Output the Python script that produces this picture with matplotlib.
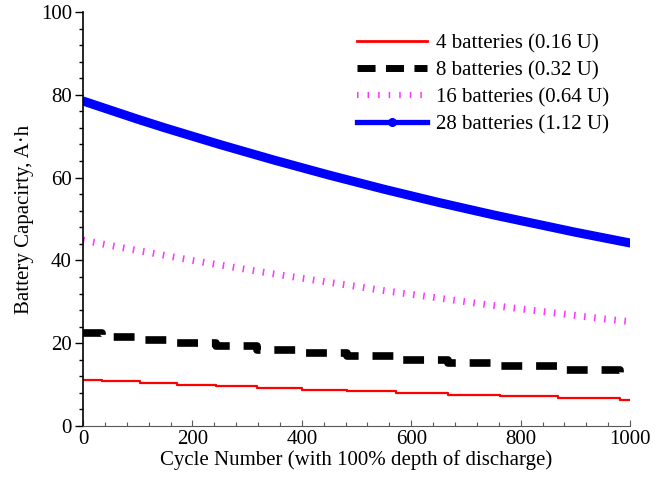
import numpy as np
import matplotlib.pyplot as plt
from matplotlib.lines import Line2D
from matplotlib.ticker import MultipleLocator

plt.rcParams['font.family'] = ['Liberation Serif', 'DejaVu Serif']
plt.rcParams['font.size'] = 15
plt.rcParams['lines.scale_dashes'] = False

# capacity readings, A*h
cycles = [0, 50, 100, 150, 200, 250, 300, 350, 400, 450, 500,
          550, 600, 650, 700, 750, 800, 850, 900, 950, 1000]
cap_28 = [78.5, 76.3, 74.1, 72.0, 70.0, 68.0, 66.1, 64.2, 62.4, 60.6, 58.9,
          57.2, 55.6, 54.0, 52.5, 51.0, 49.6, 48.2, 46.8, 45.5, 44.2]
cap_16 = [44.9, 43.6, 42.4, 41.2, 40.0, 38.9, 37.8, 36.7, 35.7, 34.7, 33.7,
          32.7, 31.8, 30.9, 30.0, 29.1, 28.3, 27.5, 26.7, 25.9, 25.2]

# the small packs are reported in coarse steps
step_cycles = [0, 34, 104, 171, 244, 318, 400, 482, 573, 668, 762, 868, 982, 1000]
cap_4 = [11.2, 10.8, 10.4, 10.0, 9.6, 9.2, 8.8, 8.4, 8.0, 7.6, 7.2, 6.8, 6.3, 6.3]
cap_8 = [22.4, 21.6, 20.8, 20.0, 19.2, 18.4, 17.6, 16.8, 16.0, 15.2, 14.4, 13.6, 12.6, 12.6]

labels = ['4 batteries (0.16 U)', '8 batteries (0.32 U)',
          '16 batteries (0.64 U)', '28 batteries (1.12 U)']

fig = plt.figure(figsize=(6.71, 4.86), dpi=100)
ax = fig.add_axes([0.1237, 0.1235, 0.8153, 0.8518])

ax.plot(step_cycles, cap_4, color='red', lw=1.6, drawstyle='steps-post')
ax.plot(step_cycles, cap_8, color='black', lw=5.5, drawstyle='steps-post',
        dashes=(15, 10), dash_capstyle='butt')
ax.plot(cycles, cap_16, color='#ff33ff', lw=5, dashes=(1.1, 6.2),
        dash_capstyle='butt')
ax.plot(cycles, cap_28, color='blue', lw=6.5, solid_capstyle='round')

handles = [
    Line2D([], [], color='red', lw=2),
    Line2D([], [], color='black', lw=5, dashes=(13, 7.5)),
    Line2D([], [], color='#ff33ff', lw=4.5, dashes=(1.1, 6.5)),
    Line2D([], [], color='blue', lw=3.8, marker='o', ms=5.5),
]
ax.legend(handles, labels, loc='upper right', frameon=False, handlelength=3.4,
          handletextpad=0.4, labelspacing=0.35, borderaxespad=0.3,
          bbox_to_anchor=(0.988, 0.982))

ax.set_xlim(0, 1000)
ax.set_ylim(0, 100)
ax.xaxis.set_major_locator(MultipleLocator(200))
ax.xaxis.set_minor_locator(MultipleLocator(40))
ax.yaxis.set_major_locator(MultipleLocator(20))
ax.yaxis.set_minor_locator(MultipleLocator(4))

ax.spines['top'].set_visible(False)
ax.spines['right'].set_visible(False)
ax.spines['bottom'].set_color('0.35')
ax.spines['left'].set_linewidth(1.2)

ax.tick_params(axis='y', which='major', direction='out', length=6, width=1, pad=2)
ax.tick_params(axis='y', which='minor', direction='out', length=3, width=1)
ax.tick_params(axis='x', which='major', direction='in', length=4, width=0.8,
               color='0.35', pad=3)
ax.tick_params(axis='x', which='minor', direction='in', length=3, width=0.8,
               color='0.35')

ax.set_xlabel('Cycle Number (with 100% depth of discharge)', labelpad=1)
ax.set_ylabel('Battery Capacirty, A·h', labelpad=5)

fig.savefig('out.png', dpi=100)
